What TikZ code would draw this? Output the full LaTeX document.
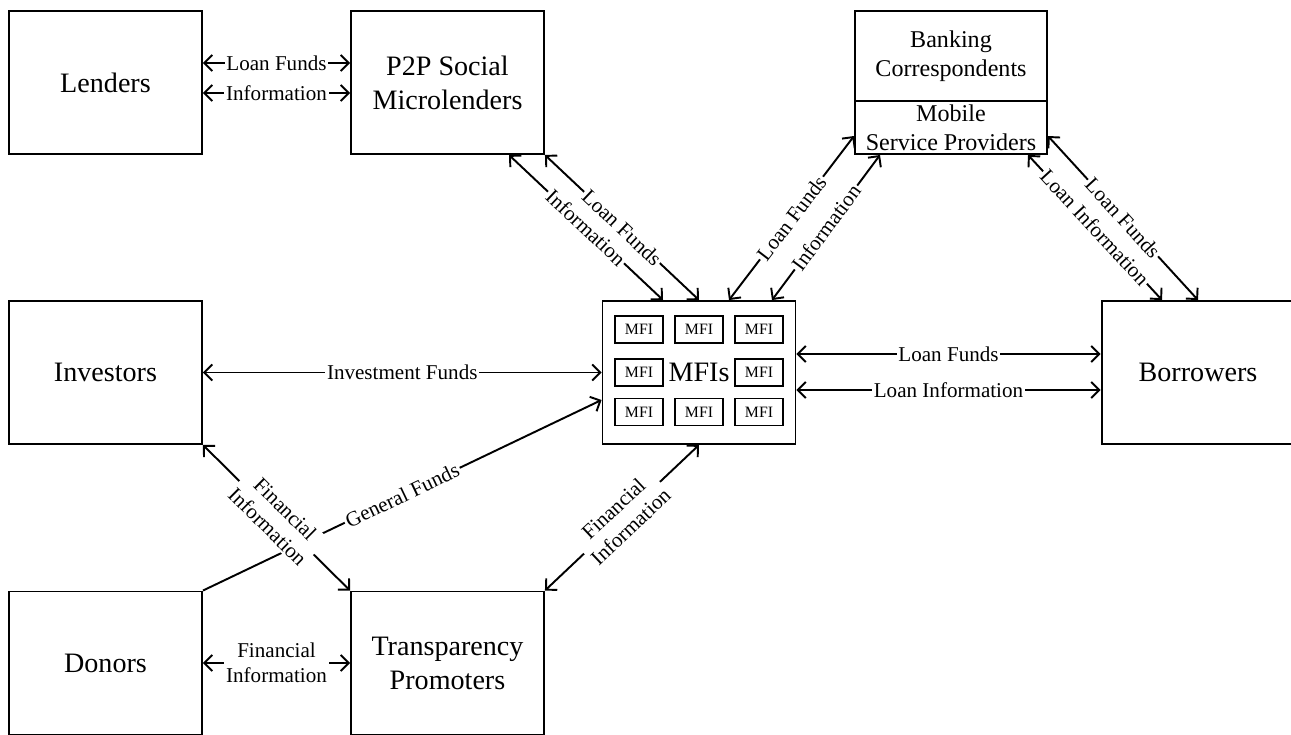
\documentclass[tikz,border=0pt]{standalone}
\usepackage{fontspec}
\setmainfont{Liberation Serif}
\usetikzlibrary{arrows.meta}
\begin{document}
\begin{tikzpicture}[x=0.02cm, y=-0.02cm, line width=1.1pt,
        >={Straight Barb[length=1.6mm, width=3.2mm]},
        box/.style={draw, minimum width=3.86cm, minimum height=2.86cm, inner sep=0pt, align=center, font=\fontsize{16}{19.4}\selectfont},
        part/.style={draw, minimum width=3.84cm, inner sep=0pt, align=center, font=\fontsize{13.7}{16.5}\selectfont},
        mfibox/.style={draw, minimum width=0.96cm, minimum height=0.54cm, inner sep=0pt, font=\fontsize{9}{10}\selectfont},
        lbl/.style={fill=white, inner sep=1pt, align=center, font=\fontsize{12}{14.2}\selectfont}]
            \useasboundingbox (0,0) rectangle (1291,734);

            \node[box] (lend) at (105.5,82.5) {Lenders};
            \node[box] (p2p) at (447.5,82.5) {P2P Social\\Microlenders};
            \node[box] (inv) at (105.5,372.5) {Investors};
            \node[box] (mfi) at (699,372.5) {MFIs};
            \node[box] (borr) at (1198,372.5) {Borrowers};
            \node[box] (don) at (105.5,663) {Donors};
            \node[box] (tra) at (447.5,663) {Transparency\\Promoters};
            \node[part, minimum height=1.8cm] (bank) at (951,56) {Banking\\Correspondents};
            \node[part, minimum height=1.06cm] (mob) at (951,127.5) {Mobile\\Service Providers};

            \node[mfibox] (m1) at (639,329.5) {MFI};
            \node[mfibox] (m2) at (699,329.5) {MFI};
            \node[mfibox] (m3) at (759,329.5) {MFI};
            \node[mfibox] (m4) at (639,372.5) {MFI};
            \node[mfibox] (m5) at (759,372.5) {MFI};
            \node[mfibox] (m6) at (639,412) {MFI};
            \node[mfibox] (m7) at (699,412) {MFI};
            \node[mfibox] (m8) at (759,412) {MFI};

            \draw[<->] (lend.east |- 0,63) -- node[lbl] {Loan Funds} (p2p.west |- 0,63);
            \draw[<->] (lend.east |- 0,93) -- node[lbl] {Information} (p2p.west |- 0,93);

            \draw[<->] (p2p.south -| 509,0) -- node[lbl, sloped] {Information} (mfi.north -| 663,0);
            \draw[<->] (p2p.south east) -- node[lbl, sloped] {Loan Funds} (mfi.north);

            \draw[<->] (mfi.north -| 729,0) -- node[lbl, sloped] {Loan Funds} (mob.west |- 0,136);
            \draw[<->] (mfi.north -| 772,0) -- node[lbl, sloped] {Information} (mob.south -| 880,0);

            \draw[<->] (mob.south -| 1028,0) -- node[lbl, sloped] {Loan Information} (borr.north -| 1162,0);
            \draw[<->] (mob.east |- 0,136) -- node[lbl, sloped] {Loan Funds} (borr.north -| 1198,0);

            \draw[<->] (mfi.east |- 0,354) -- node[lbl] {Loan Funds} (borr.west |- 0,354);
            \draw[<->] (mfi.east |- 0,390) -- node[lbl] {Loan Information} (borr.west |- 0,390);

            \draw[<->] (inv.east) -- node[lbl] {Investment Funds} (mfi.west);

            \draw[->] (don.north east) -- node[lbl, sloped] {General Funds} (mfi.west |- 0,400);
            \draw[<->] (inv.south east) -- node[lbl, sloped] {Financial\\Information} (tra.north west);
            \draw[<->] (mfi.south) -- node[lbl, sloped] {Financial\\Information} (tra.north east);
            \draw[<->] (don.east) -- node[lbl] {Financial\\Information} (tra.west);
        \end{tikzpicture}
\end{document}
